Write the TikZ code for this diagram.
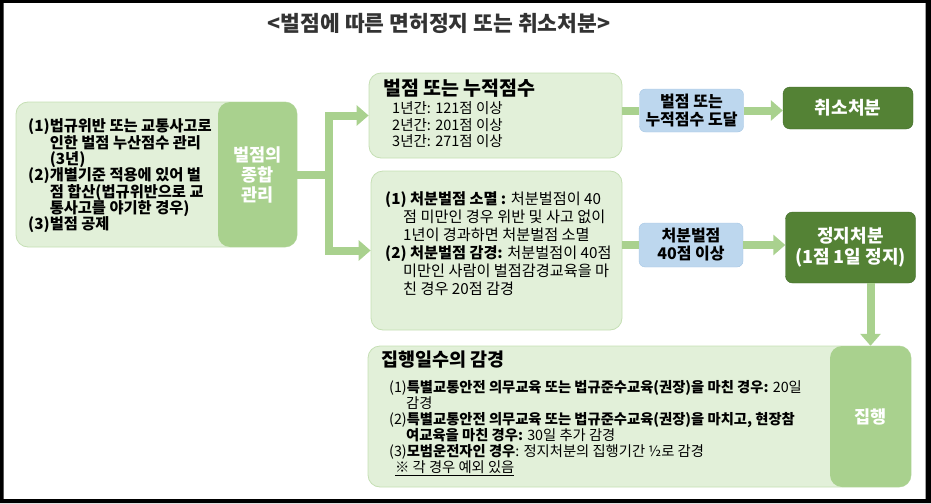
\documentclass[tikz,border=0pt]{standalone}
\usepackage{fontspec}
\setmainfont{Noto Sans CJK KR}
\usetikzlibrary{arrows.meta, positioning, calc}
\definecolor{ptgreen}{HTML}{E2F0D9}
\definecolor{ptline}{HTML}{C5DFB4}
\definecolor{ptmid}{HTML}{A9D18E}
\definecolor{ptdark}{HTML}{548235}
\definecolor{ptdarkline}{HTML}{3E6A27}
\definecolor{ptblue}{HTML}{BDD7EE}
\definecolor{ptblueline}{HTML}{A6C6E4}
\definecolor{pttitle}{HTML}{333333}

\begin{document}
\begin{tikzpicture}[x=1pt, y=-1pt,
  panel/.style={rectangle, draw=ptline, fill=ptgreen, rounded corners=12pt, line width=0.8pt},
  side/.style={rectangle, fill=ptmid, rounded corners=12pt, text=white, font=\fontsize{17.5}{20}\selectfont\bfseries, align=center},
  cond/.style={rectangle, draw=ptblueline, fill=ptblue, rounded corners=6pt, font=\fontsize{16}{18}\selectfont\bfseries, align=center},
  result/.style={rectangle, draw=ptdarkline, fill=ptdark, rounded corners=7pt, text=white, font=\fontsize{18}{21}\selectfont\bfseries, align=center},
  txt/.style={anchor=west, inner sep=0pt, align=left},
  conn/.style={draw=ptmid, line width=8pt, line join=miter},
  arr/.style={conn, -{Triangle[width=20pt, length=12pt]}},
]
  \fill[black, even odd rule] (0,0) rectangle (931,503) (3.5,3) rectangle (925.5,499);

  \node[font=\fontsize{21.5}{25}\selectfont\bfseries, text=pttitle] (title) at (439,23) {<벌점에 따른 면허정지 또는 취소처분>};

  \node[panel, minimum width=281pt, minimum height=145pt] (acc) at (156.5,174.5) {};
  \node[side, minimum width=79pt, minimum height=145pt] (accside) at (257.5,174.5) {벌점의\\종합\\관리};
  \node[panel, minimum width=253pt, minimum height=85pt] (cum) at (495.5,115.5) {};
  \node[panel, minimum width=251pt, minimum height=159pt] (disp) at (496.5,250.5) {};
  \node[cond, minimum width=104pt, minimum height=43pt] (reach) at (691.5,110.5) {벌점 또는\\누적점수 도달};
  \node[result, minimum width=130pt, minimum height=42pt] (revoke) at (848,108) {취소처분};
  \node[cond, minimum width=104pt, minimum height=44pt] (over) at (691,245) {처분벌점\\40점 이상};
  \node[result, minimum width=130pt, minimum height=71pt] (susp) at (850.5,247.5) {정지처분\\(1점 1일 정지)};
  \node[panel, minimum width=543pt, minimum height=141pt] (exec) at (639.5,416.5) {};
  \node[side, minimum width=81pt, minimum height=141pt] (execside) at (870.5,416.5) {집행};

  \node[txt, font=\fontsize{15.3}{16.3}\selectfont\bfseries] (acctext) at (28,176) {(1)법규위반 또는 교통사고로\\\phantom{(1)}인한 벌점 누산점수 관리\\\phantom{(1)}(3년)\\(2)개별기준 적용에 있어 벌\\\phantom{(2)}점 합산(법규위반으로 교\\\phantom{(2)}통사고를 야기한 경우)\\(3)벌점 공제};

  \node[txt, font=\fontsize{19.5}{22}\selectfont\bfseries] (cumtitle) at (383,88) {벌점 또는 누적점수};
  \node[txt, font=\fontsize{14.5}{16.5}\selectfont] (cumlist) at (392,125) {1년간: 121점 이상\\2년간: 201점 이상\\3년간: 271점 이상};

  \node[txt, font=\fontsize{15.2}{18}\selectfont] (disptext) at (385,244) {\textbf{(1) 처분벌점 소멸 :} 처분벌점이 40\\\hspace*{18pt}점 미만인 경우 위반 및 사고 없이\\\hspace*{18pt}1년이 경과하면 처분벌점 소멸\\\textbf{(2) 처분벌점 감경:} 처분벌점이 40점\\\hspace*{18pt}미만인 사람이 벌점감경교육을 마\\\hspace*{18pt}친 경우 20점 감경};

  \node[txt, font=\fontsize{18.5}{21}\selectfont\bfseries] (exectitle) at (381,360) {집행일수의 감경};
  \node[txt, font=\fontsize{14.3}{16}\selectfont] (exectext) at (389,428) {(1)\textbf{특별교통안전 의무교육 또는 법규준수교육(권장)을 마친 경우:} 20일\\\hspace*{17pt}감경\\(2)\textbf{특별교통안전 의무교육 또는 법규준수교육(권장)을 마치고, 현장참}\\\hspace*{17pt}\textbf{여교육을 마친 경우:} 30일 추가 감경\\(3)\textbf{모범운전자인 경우}: 정지처분의 집행기간 ½로 감경\\\hspace*{6pt}\underline{※ 각 경우 예외 있음}};

  \coordinate (fork) at (329,174.5);
  \draw[conn] (accside.east) -- (fork);
  \draw[arr] (fork) |- (cum.west);
  \draw[arr] (fork) |- (disp.west);
  \draw[conn] (cum.east |- reach.west) -- (reach.west);
  \draw[arr] (reach.east) -- (reach.east -| revoke.west);
  \draw[conn] (disp.east |- over.west) -- (over.west);
  \draw[arr] (over.east) -- (over.east -| susp.west);
  \draw[arr] (susp.south -| execside.north) -- (execside.north);
\end{tikzpicture}
\end{document}
